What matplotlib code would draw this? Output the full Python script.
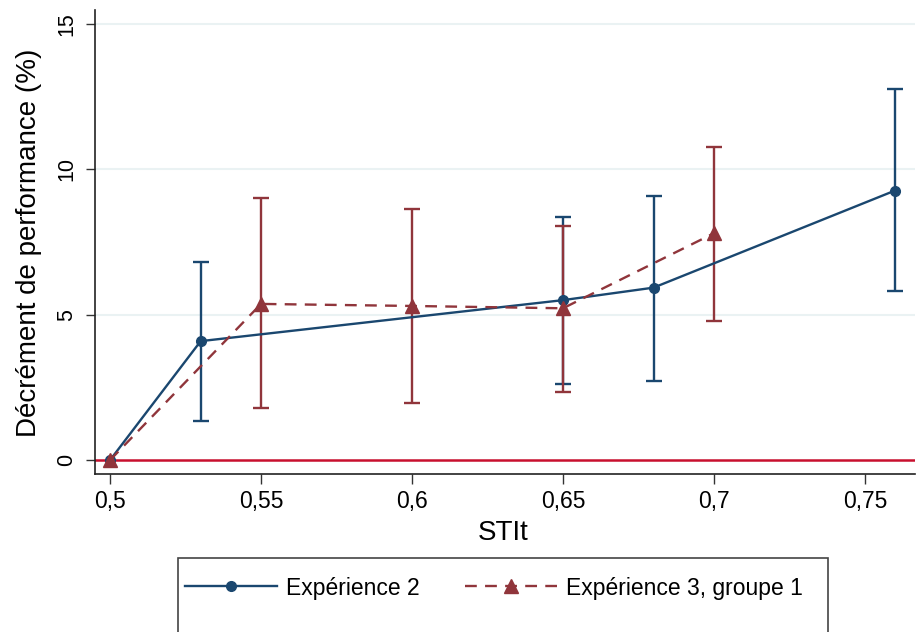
import matplotlib
matplotlib.use("Agg")
import matplotlib.pyplot as plt
from matplotlib.patches import Rectangle
from matplotlib.lines import Line2D

plt.rcParams['font.family'] = ['Liberation Sans', 'DejaVu Sans']

# Data
exp2_x = [0.50, 0.53, 0.65, 0.68, 0.76]
exp2_y = [0.0, 4.09, 5.50, 5.93, 9.27]
exp2_lo = [0.0, 1.34, 2.61, 2.73, 5.83]
exp2_hi = [0.0, 6.81, 8.37, 9.09, 12.75]

exp3_x = [0.50, 0.55, 0.60, 0.65, 0.70]
exp3_y = [0.0, 5.37, 5.30, 5.22, 7.80]
exp3_lo = [0.0, 1.78, 1.95, 2.33, 4.78]
exp3_hi = [0.0, 9.02, 8.63, 8.06, 10.76]

xticks = [0.5, 0.55, 0.6, 0.65, 0.7, 0.75]
xticklabels = ["0,5", "0,55", "0,6", "0,65", "0,7", "0,75"]
yticks = [0, 5, 10, 15]
labels = ["Expérience 2", "Expérience 3, groupe 1"]

blue = "#1a476f"
red = "#90353b"
ref_red = "#c8102e"
grid = "#eaf2f3"

W, H = 923, 632
fig = plt.figure(figsize=(W / 100, H / 100), dpi=100)
ax = fig.add_axes([95 / W, 1 - 474 / H, (915 - 95) / W, (474 - 10) / H])

ax.set_xlim(0.4950, 0.7666)
ax.set_ylim(-0.48, 15.48)

for yv in yticks[1:]:
    ax.axhline(yv, color=grid, lw=1.5, zorder=0)
ax.axhline(0, color=ref_red, lw=1.8, zorder=1)

def draw_err(xs, ys, lo, hi, color):
    for xv, yv, l, h in zip(xs, ys, lo, hi):
        if h - l <= 0:
            continue
        ax.errorbar([xv], [yv], yerr=[[yv - l], [h - yv]], fmt='none',
                    ecolor=color, elinewidth=1.7, capsize=6, capthick=1.7, zorder=2)

draw_err(exp2_x, exp2_y, exp2_lo, exp2_hi, blue)
draw_err(exp3_x, exp3_y, exp3_lo, exp3_hi, red)

ax.plot(exp2_x, exp2_y, color=blue, lw=1.7, marker='o', ms=7, zorder=3)
ax.plot(exp3_x, exp3_y, color=red, lw=1.7, ls=(0, (5, 3.5)), marker='^', ms=9.5, zorder=3)

ax.set_xticks(xticks)
ax.set_xticklabels(xticklabels)
ax.set_yticks(yticks)
ax.set_yticklabels([str(v) for v in yticks], rotation=90, va='center')
ax.tick_params(axis='both', width=1, color='#333333')
ax.tick_params(axis='y', length=6.5, pad=6.5, labelsize=15.5)
ax.tick_params(axis='x', length=7.2, pad=4.5, labelsize=16.5)

for s in ['top', 'right']:
    ax.spines[s].set_visible(False)
for s in ['left', 'bottom']:
    ax.spines[s].set_color('#222222')
    ax.spines[s].set_linewidth(1.2)

fig.text(503 / W, 1 - 533 / H, "STIt", fontsize=20, ha='center', va='center')
fig.text(29 / W, 1 - 243 / H, "Décrément de performance (%)", fontsize=20,
         rotation=90, ha='center', va='center')

# legend box
rect = Rectangle((178 / W, -0.05), (828 - 178) / W, 1.05 - 558 / H, transform=fig.transFigure,
                 fill=False, edgecolor='#444444', lw=1.2)
fig.patches.append(rect)
handles = [Line2D([], [], color=blue, lw=1.7, marker='o', ms=7),
           Line2D([], [], color=red, lw=1.7, ls=(0, (5, 3.5)), marker='^', ms=9.5)]
fig.legend(handles, labels, loc='center left', bbox_to_anchor=(185 / W, 1 - 588 / H),
           ncol=2, frameon=False, fontsize=16.5, handlelength=4.0, columnspacing=2.0,
           handletextpad=0.39, borderpad=0, borderaxespad=0)

fig.savefig("out.png", dpi=100)
